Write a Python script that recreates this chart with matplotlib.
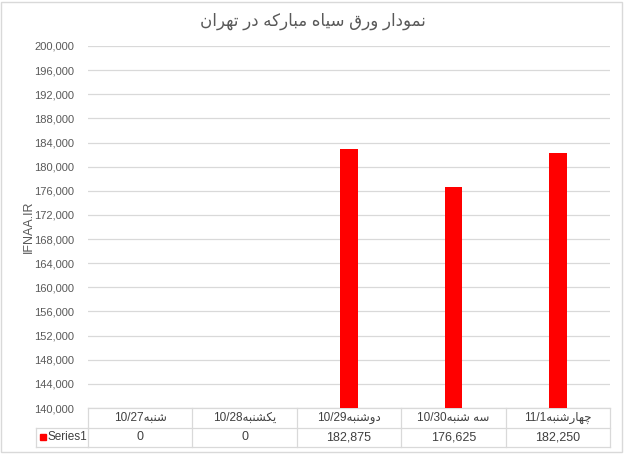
import matplotlib
matplotlib.use("Agg")
import matplotlib.pyplot as plt
import matplotlib.transforms as mtransforms
from matplotlib.patches import Rectangle
from matplotlib.ticker import FuncFormatter, MultipleLocator

# chart data
title = "نمودار ورق سیاه مبارکه در تهران"
y_label = "IFNAA.IR"
categories = ["شنبه10/27", "یکشنبه10/28", "دوشنبه10/29", "سه شنبه10/30", "چهارشنبه11/1"]
values = [0, 0, 182875, 176625, 182250]
series_name = "Series1"

# minimal arabic/persian shaping (matplotlib has no complex text layout)
FORMS = {
    "\u0627": ("\uFE8D", "\uFE8E", None, None),
    "\u0628": ("\uFE8F", "\uFE90", "\uFE91", "\uFE92"),
    "\u062A": ("\uFE95", "\uFE96", "\uFE97", "\uFE98"),
    "\u062F": ("\uFEA9", "\uFEAA", None, None),
    "\u0631": ("\uFEAD", "\uFEAE", None, None),
    "\u0633": ("\uFEB1", "\uFEB2", "\uFEB3", "\uFEB4"),
    "\u0634": ("\uFEB5", "\uFEB6", "\uFEB7", "\uFEB8"),
    "\u0642": ("\uFED5", "\uFED6", "\uFED7", "\uFED8"),
    "\u0645": ("\uFEE1", "\uFEE2", "\uFEE3", "\uFEE4"),
    "\u0646": ("\uFEE5", "\uFEE6", "\uFEE7", "\uFEE8"),
    "\u0647": ("\uFEE9", "\uFEEA", "\uFEEB", "\uFEEC"),
    "\u0648": ("\uFEED", "\uFEEE", None, None),
    "\u06A9": ("\uFB8E", "\uFB8F", "\uFB90", "\uFB91"),
    "\u06CC": ("\uFBFC", "\uFBFD", "\uFBFE", "\uFBFF"),
    "\u0686": ("\uFB7A", "\uFB7B", "\uFB7C", "\uFB7D"),
}


def shape_run(s):
    out = []
    for i, c in enumerate(s):
        if c not in FORMS:
            out.append(c)
            continue
        iso, fin, ini, med = FORMS[c]
        prev = s[i - 1] if i > 0 else None
        nxt = s[i + 1] if i + 1 < len(s) else None
        joins_prev = prev in FORMS and FORMS[prev][2] is not None
        joins_next = ini is not None and nxt in FORMS
        if joins_prev and joins_next:
            out.append(med)
        elif joins_prev:
            out.append(fin)
        elif joins_next:
            out.append(ini)
        else:
            out.append(iso)
    return "".join(out)


def is_rtl(c):
    return "\u0600" <= c <= "\u06FF"


def visual(s):
    # split into rtl / ltr runs, spaces stick to the rtl run
    runs = []
    for c in s:
        rtl = is_rtl(c) or (c == " " and runs and runs[-1][0])
        if runs and runs[-1][0] == rtl:
            runs[-1][1] += c
        else:
            runs.append([rtl, c])
    parts = []
    for rtl, txt in runs:
        parts.append(shape_run(txt)[::-1] if rtl else txt)
    return "".join(parts[::-1])


FONT = ["Liberation Sans", "DejaVu Sans"]
plt.rcParams["font.family"] = FONT

fig = plt.figure(figsize=(6.25, 4.54), dpi=100)
ax = fig.add_axes([0.1408, 0.1013, 0.8352, 0.7974])

x = list(range(len(categories)))
ax.bar(x, values, width=0.17, color="#ff0000", zorder=3)

ax.set_xlim(-0.5, len(categories) - 0.5)
ax.set_ylim(140000, 200000)
ax.yaxis.set_major_locator(MultipleLocator(4000))
ax.yaxis.set_major_formatter(FuncFormatter(lambda v, p: f"{int(v):,}"))
ax.grid(axis="y", color="#d9d9d9", linewidth=0.9, zorder=0)
ax.tick_params(axis="y", length=0, pad=10, labelsize=8, labelcolor="#595959")
ax.set_xticks([])
for sp in ax.spines.values():
    sp.set_visible(False)

ax.set_ylabel(y_label, fontsize=9, color="#595959")
ax.yaxis.set_label_coords(-0.102, 0.5)

fig.text(0.50, 0.953, visual(title), ha="center", va="center",
         fontsize=12, color="#595959", family=FONT)

# data table under the axes
tr = mtransforms.blended_transform_factory(ax.transData, fig.transFigure)
y_top, y_mid, y_bot = 0.1013, 0.0573, 0.0154
lc = "#d9d9d9"
n = len(categories)
for yy in (y_top, y_mid, y_bot):
    ax.plot([-0.5, n - 0.5], [yy, yy], transform=tr, color=lc, lw=0.9, clip_on=False)
for k in range(n + 1):
    xb = k - 0.5
    ax.plot([xb, xb], [y_bot, y_top], transform=tr, color=lc, lw=0.9, clip_on=False)

# left legend cell
left_cell = 36 / 625
fig.add_artist(plt.Line2D([left_cell, 0.1408], [y_mid, y_mid], color=lc, lw=0.9))
fig.add_artist(plt.Line2D([left_cell, 0.1408], [y_bot, y_bot], color=lc, lw=0.9))
fig.add_artist(plt.Line2D([left_cell, left_cell], [y_bot, y_mid], color=lc, lw=0.9))
fig.add_artist(Rectangle((40 / 625, 0.0315), 6 / 625, 6 / 454, color="#ff0000"))
fig.text(48 / 625, (y_mid + y_bot) / 2, series_name, ha="left", va="center",
         fontsize=8.5, color="#404040")

for i, (cat, v) in enumerate(zip(categories, values)):
    ax.text(i, (y_top + y_mid) / 2, visual(cat), transform=tr, ha="center", va="center",
            fontsize=8.5, color="#404040", family=FONT)
    ax.text(i, (y_mid + y_bot) / 2, f"{v:,}", transform=tr, ha="center", va="center",
            fontsize=9, color="#404040")

# chart border
fig.add_artist(Rectangle((0.002, 0.004), 0.993, 0.992, fill=False,
                         edgecolor="#d9d9d9", lw=1, transform=fig.transFigure))

fig.savefig("out.png", dpi=100)
